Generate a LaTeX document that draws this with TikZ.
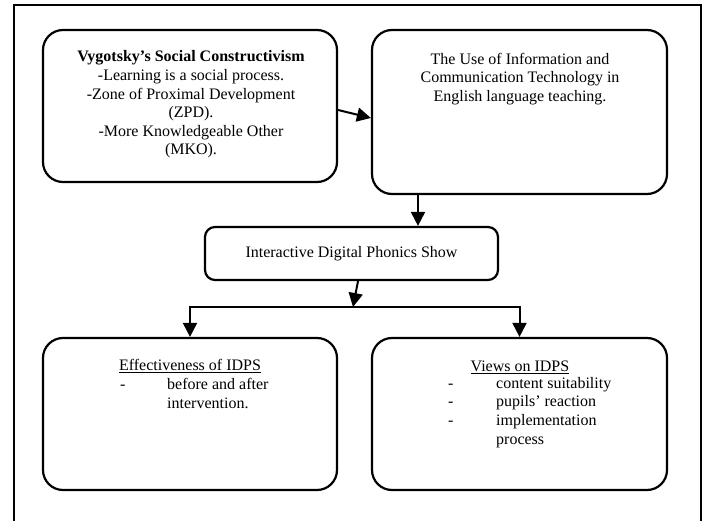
\documentclass[tikz,border=0pt]{standalone}
\usepackage{fontspec}
\setmainfont{Liberation Serif}
\usetikzlibrary{arrows.meta}
\tikzset{
  txt/.style={font=\fontsize{16}{18.6}\selectfont, inner sep=0pt, align=center},
  bigbox/.style={draw, line width=2.2pt, rounded corners=20pt, minimum width=294pt, minimum height=152pt, inner sep=0pt},
  midbox/.style={draw, line width=2.2pt, rounded corners=10pt, minimum width=293pt, minimum height=53pt, inner sep=0pt, font=\fontsize{16}{18.6}\selectfont},
  arr/.style={line width=2pt, -{Triangle[length=14pt,width=14pt]}},
}
\begin{document}
\begin{tikzpicture}[x=1pt,y=-1pt]
\useasboundingbox (0,0) rectangle (706,521);
\draw[line width=2.2pt] (14,530) -- (14,5) -- (701,5) -- (701,530);
% boxes
\node[bigbox] (b1) at (190,106) {};
\node[bigbox, minimum width=295pt, minimum height=164pt] (b2) at (519.5,112) {};
\node[midbox] (idps) at (351.5,253.5) {Interactive Digital Phonics Show};
\node[bigbox] (b3) at (190,414) {};
\node[bigbox, minimum width=295pt] (b4) at (519.5,414) {};
% texts
\node[txt] (t1) at (191,104.5) {\textbf{Vygotsky’s Social Constructivism}\\-Learning is a social process.\\-Zone of Proximal Development\\(ZPD).\\-More Knowledgeable Other\\(MKO).};
\node[txt] (t2) at (520,79) {The Use of Information and\\Communication Technology in\\English language teaching.};
\node[txt] (t3) at (190,366) {\underline{Effectiveness of IDPS}};
\node[txt, anchor=west, align=left] (l3) at (120,395) {\begin{tabular}{@{}p{47pt}@{}l@{}}-&before and after\\&intervention.\end{tabular}};
\node[txt] (t4) at (520,367) {\underline{Views on IDPS}};
\node[txt, anchor=west, align=left] (l4) at (448,412.5) {\begin{tabular}{@{}p{48pt}@{}l@{}}-&content suitability\\-&pupils’ reaction\\-&implementation\\&process\end{tabular}};
% connectors
\coordinate (j) at (353,307);
\draw[arr] ([yshift=-4pt]b1.east) -- ([yshift=-6pt]b2.west);
\draw[arr] ([xshift=-101.5pt]b2.south) -- ([xshift=-101.5pt]b2.south |- idps.north);
\draw[arr] ([xshift=6.5pt]idps.south) -- (j);
\draw[arr] (j) -| (b3.north);
\draw[arr] (j) -| (b4.north);
\end{tikzpicture}
\end{document}
